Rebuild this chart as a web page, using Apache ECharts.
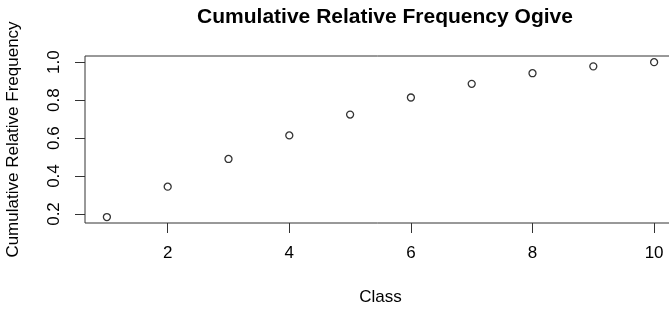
<!DOCTYPE html>
<html>
<head>
<meta charset="utf-8">
<script src="https://cdn.jsdelivr.net/npm/echarts@6/dist/echarts.min.js"></script>
<style>
  html, body { margin: 0; padding: 0; background: #fff; }
  #main { width: 669px; height: 311px; }
</style>
</head>
<body>
<div id="main"></div>
<script>
// 数据
var classes = [1, 2, 3, 4, 5, 6, 7, 8, 9, 10];
var cumRelFreq = [0.184, 0.344, 0.49, 0.614, 0.724, 0.814, 0.886, 0.942, 0.978, 1.0];
var xTicks = [2, 4, 6, 8, 10];
var yTicks = [0.2, 0.4, 0.6, 0.8, 1.0];

var points = classes.map(function (c, i) { return [c, cumRelFreq[i]]; });

var myChart = echarts.init(document.getElementById('main'));

var font = '"Liberation Sans", Arial, sans-serif';

var option = {
    animation: false,
    title: {
        text: 'Cumulative Relative Frequency Ogive',
        left: 380,
        textAlign: 'center',
        top: 2,
        textStyle: { fontFamily: font, fontSize: 21, fontWeight: 'bold', color: '#000' }
    },
    grid: {
        left: 85,
        top: 56,
        right: -7,
        bottom: 88,
        outerBoundsMode: 'none',
        containLabel: false,
        show: true,
        borderColor: '#333',
        borderWidth: 1
    },
    xAxis: {
        type: 'value',
        min: 0.64,
        max: 10.36,
        name: 'Class',
        nameLocation: 'middle',
        nameGap: 66,
        nameTextStyle: { fontFamily: font, fontSize: 17, color: '#000' },
        splitLine: { show: false },
        axisLine: { show: false },
        axisTick: { show: true, length: 10, customValues: xTicks, lineStyle: { color: '#333' } },
        axisLabel: {
            customValues: xTicks,
            margin: 22,
            fontFamily: font, fontSize: 17, color: '#000'
        }
    },
    yAxis: {
        type: 'value',
        min: 0.1526,
        max: 1.0326,
        name: 'Cumulative Relative Frequency',
        nameLocation: 'middle',
        nameGap: 63,
        nameTextStyle: { fontFamily: font, fontSize: 17, color: '#000' },
        splitLine: { show: false },
        axisLine: { show: false },
        axisTick: { show: true, length: 10, customValues: yTicks, lineStyle: { color: '#333' } },
        axisLabel: {
            customValues: yTicks,
            rotate: 90,
            margin: 22,
            fontFamily: font, fontSize: 17, color: '#000',
            formatter: function (v) { return v.toFixed(1); }
        }
    },
    series: [{
        name: 'Cumulative Relative Frequency',
        type: 'scatter',
        data: points,
        symbol: 'circle',
        symbolSize: 7,
        itemStyle: { color: '#fff', borderColor: '#000', borderWidth: 1.3 }
    }]
};

myChart.setOption(option);
</script>
</body>
</html>
